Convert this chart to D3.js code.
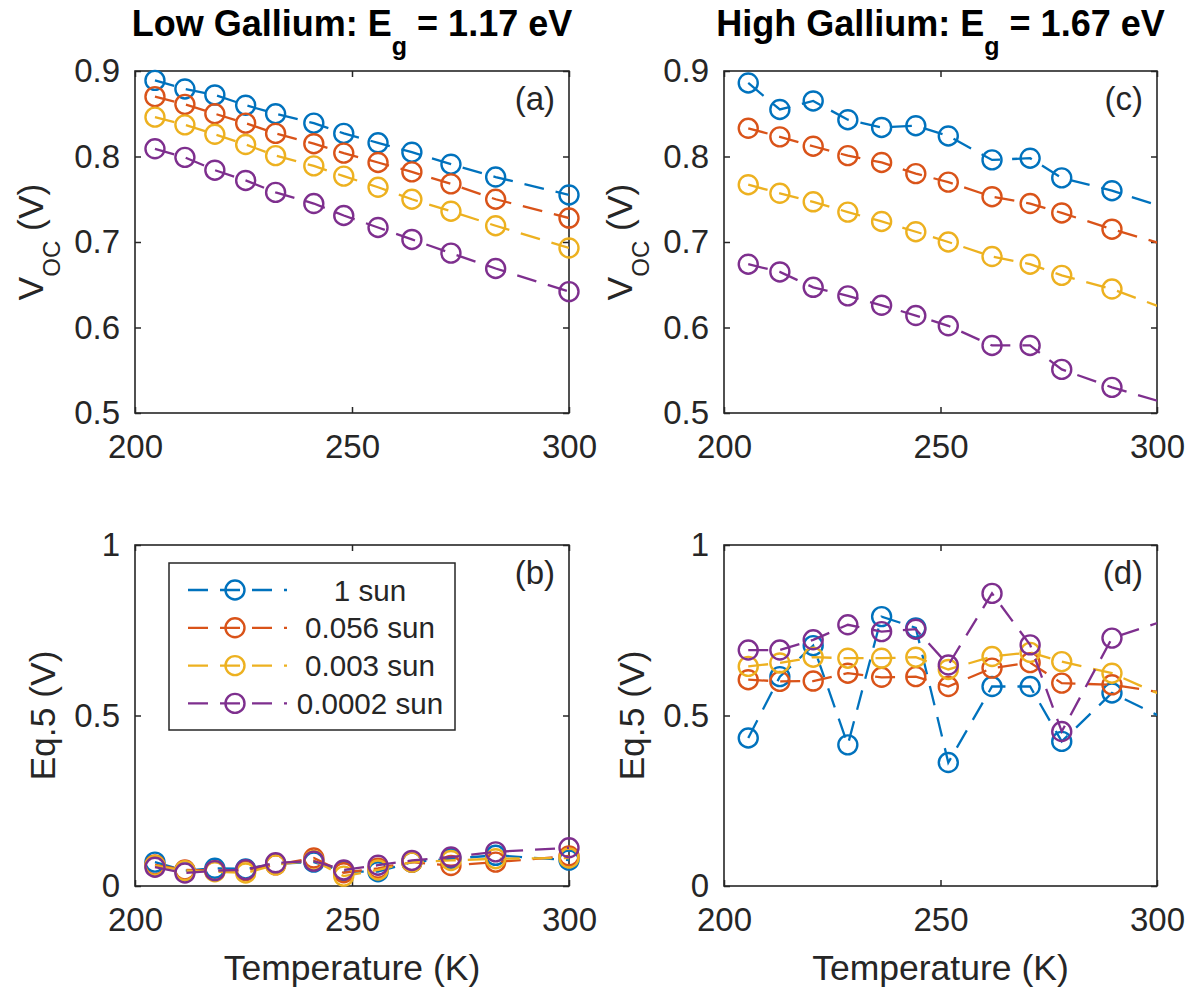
<!DOCTYPE html>
<html>
<head>
<meta charset="utf-8">
<script src="https://cdn.jsdelivr.net/npm/d3@7"></script>
<style>
  html, body { margin: 0; padding: 0; background: #fff; }
  svg { display: block; font-family: "Liberation Sans", Arial, Helvetica, sans-serif; }
</style>
</head>
<body>
<svg id="fig" width="1188" height="987"></svg>
<script>
// ---- data -------------------------------------------------------------
const seriesNames = ["1 sun", "0.056 sun", "0.003 sun", "0.0002 sun"];
const seriesColors = ["#0072BD", "#D95319", "#EDB120", "#7E2F8E"];

// measurement temperatures (K)
const tempLowGa  = [204.6, 211.5, 218.4, 225.5, 232.4, 241.2, 248.1, 256.0, 263.8, 272.8, 283.1, 300.0];
const tempHighGa = [205.6, 212.9, 220.6, 228.6, 236.4, 244.3, 251.8, 261.9, 270.7, 278.0, 289.6, 305.0];

// (a) Voc, low gallium
const vocLow1sun    = [0.889, 0.879, 0.872, 0.860, 0.850, 0.839, 0.827, 0.816, 0.805, 0.791, 0.776, 0.755];
const vocLow056     = [0.870, 0.861, 0.850, 0.839, 0.827, 0.815, 0.804, 0.793, 0.782, 0.768, 0.750, 0.728];
const vocLow003     = [0.846, 0.837, 0.826, 0.814, 0.801, 0.789, 0.777, 0.764, 0.750, 0.736, 0.719, 0.693];
const vocLow0002    = [0.809, 0.799, 0.784, 0.772, 0.758, 0.745, 0.731, 0.717, 0.703, 0.687, 0.669, 0.642];

// (b) Eq.5, low gallium
const eqLow1sun     = [0.070, 0.045, 0.052, 0.050, 0.065, 0.070, 0.042, 0.042, 0.070, 0.080, 0.090, 0.076];
const eqLow056      = [0.062, 0.047, 0.045, 0.045, 0.062, 0.082, 0.039, 0.052, 0.070, 0.060, 0.070, 0.088];
const eqLow003      = [0.060, 0.045, 0.042, 0.038, 0.062, 0.075, 0.029, 0.047, 0.070, 0.075, 0.080, 0.082];
const eqLow0002     = [0.055, 0.038, 0.045, 0.048, 0.068, 0.073, 0.047, 0.061, 0.075, 0.085, 0.100, 0.112];

// (c) Voc, high gallium
const vocHigh1sun   = [0.886, 0.855, 0.865, 0.843, 0.834, 0.836, 0.824, 0.796, 0.798, 0.775, 0.760, 0.735];
const vocHigh056    = [0.833, 0.823, 0.812, 0.801, 0.793, 0.780, 0.770, 0.753, 0.745, 0.734, 0.715, 0.692];
const vocHigh003    = [0.767, 0.757, 0.747, 0.735, 0.724, 0.712, 0.700, 0.683, 0.674, 0.661, 0.645, 0.616];
const vocHigh0002   = [0.674, 0.665, 0.647, 0.637, 0.626, 0.614, 0.602, 0.579, 0.579, 0.551, 0.530, 0.507];

// (d) Eq.5, high gallium
const eqHigh1sun    = [0.434, 0.614, 0.705, 0.414, 0.790, 0.757, 0.362, 0.585, 0.585, 0.424, 0.566, 0.471];
const eqHigh056     = [0.605, 0.600, 0.601, 0.624, 0.612, 0.614, 0.585, 0.639, 0.655, 0.595, 0.590, 0.560];
const eqHigh003     = [0.644, 0.654, 0.671, 0.668, 0.668, 0.671, 0.635, 0.673, 0.685, 0.658, 0.624, 0.538];
const eqHigh0002    = [0.692, 0.692, 0.722, 0.766, 0.746, 0.753, 0.648, 0.858, 0.707, 0.453, 0.727, 0.792];

const tempTicks = [200, 250, 300];
const vocTicks = [0.5, 0.6, 0.7, 0.8, 0.9];
const eqTicks = [0, 0.5, 1];

// ---- layout -----------------------------------------------------------
const TEXT = "#262626";
const FONT_TICK = 33;
const FONT_LABEL = 35.5;
const FONT_TITLE = 36;
const DASH = "20,12";
const LINE_W = 2.3;
const MARK_R = 9.5;
const MARK_W = 2.4;

const svg = d3.select("#fig");
svg.append("rect").attr("width", 1188).attr("height", 987).attr("fill", "#fff");

const panels = [
  { id: "a", left: 135, right: 569, top: 71,  bottom: 413, temps: tempLowGa,
    ydom: [0.5, 0.9], yticks: vocTicks, fmt: d3.format(".1f"),
    series: [vocLow1sun, vocLow056, vocLow003, vocLow0002], ylabel: "voc",
    title: ["Low Gallium: E", "g", " = 1.17 eV"] },
  { id: "b", left: 135, right: 569, top: 545, bottom: 886, temps: tempLowGa,
    ydom: [0, 1], yticks: eqTicks, fmt: d => d3.format("~g")(d),
    series: [eqLow1sun, eqLow056, eqLow003, eqLow0002], ylabel: "eq",
    xlabel: true, legend: true },
  { id: "c", left: 724, right: 1157, top: 71,  bottom: 413, temps: tempHighGa,
    ydom: [0.5, 0.9], yticks: vocTicks, fmt: d3.format(".1f"),
    series: [vocHigh1sun, vocHigh056, vocHigh003, vocHigh0002], ylabel: "voc",
    title: ["High Gallium: E", "g", " = 1.67 eV"] },
  { id: "d", left: 724, right: 1157, top: 545, bottom: 886, temps: tempHighGa,
    ydom: [0, 1], yticks: eqTicks, fmt: d => d3.format("~g")(d),
    series: [eqHigh1sun, eqHigh056, eqHigh003, eqHigh0002], ylabel: "eq",
    xlabel: true }
];

function styleAxis(g) {
  g.select(".domain").remove();
  g.selectAll(".tick line").attr("stroke", TEXT).attr("stroke-width", 1.5);
  g.selectAll(".tick text").attr("fill", TEXT).attr("font-size", FONT_TICK);
}

panels.forEach(p => {
  const x = d3.scaleLinear().domain([200, 300]).range([p.left, p.right]);
  const y = d3.scaleLinear().domain(p.ydom).range([p.bottom, p.top]);
  const g = svg.append("g").attr("class", "panel-" + p.id);

  // axes with inward ticks on all four sides
  g.append("g").attr("transform", `translate(0,${p.bottom})`)
    .call(d3.axisBottom(x).tickValues(tempTicks).tickSize(-6).tickPadding(22).tickFormat(d3.format("d")))
    .call(styleAxis);
  g.append("g").attr("transform", `translate(0,${p.top})`)
    .call(d3.axisTop(x).tickValues(tempTicks).tickSize(-6).tickFormat(""))
    .call(styleAxis);
  g.append("g").attr("transform", `translate(${p.left},0)`)
    .call(d3.axisLeft(y).tickValues(p.yticks).tickSize(-6).tickPadding(15).tickFormat(p.fmt))
    .call(styleAxis);
  g.append("g").attr("transform", `translate(${p.right},0)`)
    .call(d3.axisRight(y).tickValues(p.yticks).tickSize(-6).tickFormat(""))
    .call(styleAxis);

  g.append("rect")
    .attr("x", p.left).attr("y", p.top)
    .attr("width", p.right - p.left).attr("height", p.bottom - p.top)
    .attr("fill", "none").attr("stroke", TEXT).attr("stroke-width", 1.6);

  // clip region for the dashed lines
  svg.append("clipPath").attr("id", "clip-" + p.id)
    .append("rect")
    .attr("x", p.left).attr("y", p.top)
    .attr("width", p.right - p.left).attr("height", p.bottom - p.top);

  const line = d3.line().x(d => x(d.t)).y(d => y(d.v));

  p.series.forEach((vals, i) => {
    const pts = p.temps.map((t, j) => ({ t, v: vals[j] }));
    g.append("path")
      .datum(pts)
      .attr("d", line)
      .attr("clip-path", `url(#clip-${p.id})`)
      .attr("fill", "none")
      .attr("stroke", seriesColors[i])
      .attr("stroke-width", LINE_W)
      .attr("stroke-dasharray", DASH);
    g.append("g").selectAll("circle")
      .data(pts.filter(d => d.t >= 200 && d.t <= 300 && d.v >= p.ydom[0] && d.v <= p.ydom[1]))
      .join("circle")
      .attr("cx", d => x(d.t))
      .attr("cy", d => y(d.v))
      .attr("r", MARK_R)
      .attr("fill", "none")
      .attr("stroke", seriesColors[i])
      .attr("stroke-width", MARK_W);
  });

  // panel tag
  g.append("text")
    .attr("x", p.right - 14).attr("y", p.top + 39)
    .attr("text-anchor", "end")
    .attr("font-size", FONT_TICK).attr("fill", TEXT)
    .text(`(${p.id})`);

  // y label
  const cy = (p.top + p.bottom) / 2;
  if (p.ylabel === "voc") {
    const t = g.append("text")
      .attr("transform", `translate(${p.left - 92},${cy}) rotate(-90)`)
      .attr("text-anchor", "middle")
      .attr("font-size", FONT_LABEL).attr("fill", TEXT);
    t.append("tspan").text("V");
    t.append("tspan").attr("dy", 17).attr("font-size", 24).text("OC");
    t.append("tspan").attr("dy", -17).text(" (V)");
  } else {
    g.append("text")
      .attr("transform", `translate(${p.left - 80},${cy}) rotate(-90)`)
      .attr("text-anchor", "middle")
      .attr("font-size", FONT_LABEL).attr("fill", TEXT)
      .text("Eq.5 (V)");
  }

  // x label
  if (p.xlabel) {
    g.append("text")
      .attr("x", (p.left + p.right) / 2).attr("y", 980)
      .attr("text-anchor", "middle")
      .attr("font-size", FONT_LABEL).attr("fill", TEXT)
      .text("Temperature (K)");
  }

  // title
  if (p.title) {
    const t = g.append("text")
      .attr("x", (p.left + p.right) / 2).attr("y", 36)
      .attr("text-anchor", "middle")
      .attr("font-size", FONT_TITLE).attr("font-weight", "bold").attr("fill", "#000");
    t.append("tspan").text(p.title[0]);
    t.append("tspan").attr("dy", 19).attr("font-size", 25).text(p.title[1]);
    t.append("tspan").attr("dy", -19).text(p.title[2]);
  }

  // legend
  if (p.legend) {
    const lg = g.append("g");
    lg.append("rect")
      .attr("x", 169).attr("y", 563).attr("width", 286).attr("height", 167)
      .attr("fill", "#fff").attr("stroke", TEXT).attr("stroke-width", 1.5);
    seriesNames.forEach((name, i) => {
      const ry = 590 + i * 37.8;
      lg.append("line")
        .attr("x1", 188).attr("x2", 287).attr("y1", ry).attr("y2", ry)
        .attr("stroke", seriesColors[i]).attr("stroke-width", LINE_W)
        .attr("stroke-dasharray", DASH);
      lg.append("circle")
        .attr("cx", 235).attr("cy", ry).attr("r", MARK_R)
        .attr("fill", "none").attr("stroke", seriesColors[i]).attr("stroke-width", MARK_W);
      lg.append("text")
        .attr("x", 370).attr("y", ry).attr("dy", "0.36em")
        .attr("text-anchor", "middle")
        .attr("font-size", 29.6).attr("fill", TEXT)
        .text(name);
    });
  }
});
</script>
</body>
</html>
